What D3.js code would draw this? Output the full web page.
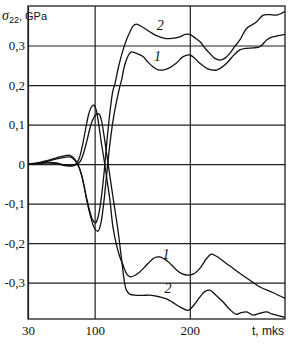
<!DOCTYPE html>
<html>
<head>
<meta charset="utf-8">
<script src="https://cdn.jsdelivr.net/npm/d3@7"></script>
<style>
  body { margin: 0; background: #fff; }
  svg { display: block; }
</style>
</head>
<body>
<div id="chart"></div>
<script>
// stress sigma22 (GPa) vs time t (mks), curves 1 and 2, tension and compression branches
const xTicks = [30, 100, 200];
const yTicks = [-0.3, -0.2, -0.1, 0, 0.1, 0.2, 0.3];

const upper1 = [[30,0],[40,0.002],[50,0.007],[60,0.013],[68,0.017],[74,0.018],[79,0.01],[84,-0.01],[88,-0.045],[92,-0.095],[96,-0.135],[100,-0.163],[103.5,-0.17],[106.5,-0.15],[109.5,-0.1],[112.5,-0.03],[116,0.05],[120,0.12],[125.6,0.187],[128.5,0.215],[131,0.245],[134,0.268],[136.5,0.279],[138.6,0.284],[144,0.28],[150.8,0.272],[156,0.258],[161.4,0.246],[166,0.239],[171.9,0.238],[178,0.243],[186,0.256],[193,0.272],[200,0.276],[205,0.268],[210.5,0.255],[219,0.241],[228,0.238],[238.6,0.255],[246,0.275],[252.6,0.289],[259,0.293],[266.6,0.294],[273.7,0.297],[280.7,0.314],[286,0.321],[291.2,0.324],[300,0.328]];

const upper2 = [[30,0],[40,0.003],[50,0.009],[60,0.016],[68,0.021],[74,0.022],[79,0.013],[83,-0.005],[87,-0.035],[91,-0.08],[95,-0.12],[98,-0.142],[101,-0.149],[104,-0.13],[107,-0.085],[110,-0.02],[113,0.06],[116,0.13],[119.3,0.187],[121,0.2],[125,0.245],[129,0.282],[133.4,0.314],[136.8,0.333],[140.3,0.349],[143.9,0.354],[150,0.347],[157.9,0.335],[165,0.325],[173.7,0.318],[181,0.318],[189.5,0.322],[195,0.328],[200,0.328],[205,0.32],[210.5,0.31],[216,0.293],[221,0.28],[226,0.268],[231.6,0.263],[237,0.268],[242,0.28],[247,0.297],[252.6,0.314],[259.6,0.343],[265,0.352],[270.2,0.36],[277.2,0.377],[284,0.378],[291.2,0.377],[300,0.386]];

const lower1 = [[30,0],[40,0.002],[50,0.004],[60,0.003],[68,-0.002],[74,-0.004],[79,-0.002],[83,0.01],[87,0.045],[91,0.095],[94,0.128],[97,0.146],[99.3,0.149],[101.5,0.138],[104,0.105],[107,0.055],[110,0.01],[113,-0.04],[116,-0.09],[119.3,-0.16],[123,-0.205],[126.5,-0.235],[129.8,-0.255],[133.4,-0.277],[136.8,-0.285],[142,-0.282],[147.4,-0.273],[152,-0.262],[157.9,-0.247],[163,-0.237],[168.4,-0.235],[173,-0.24],[177.2,-0.247],[182,-0.258],[186,-0.268],[192,-0.278],[198.2,-0.281],[204,-0.278],[210.5,-0.264],[214,-0.252],[217.6,-0.239],[222.8,-0.228],[227,-0.232],[231.6,-0.239],[238,-0.251],[245.6,-0.264],[254,-0.279],[263.2,-0.294],[273.7,-0.311],[287,-0.325],[300,-0.34]];

const lower2 = [[30,0],[40,0.001],[50,0.003],[60,0.001],[68,-0.004],[74,-0.005],[79,-0.003],[84,0.004],[88,0.025],[92,0.06],[95,0.09],[98,0.112],[101,0.124],[104.5,0.127],[107,0.112],[110,0.07],[113,0.02],[116,-0.03],[120,-0.095],[124.5,-0.167],[128,-0.235],[131.6,-0.302],[133.4,-0.319],[136.8,-0.329],[143.3,-0.332],[150.8,-0.332],[160,-0.332],[168.4,-0.336],[175.5,-0.341],[182,-0.35],[190,-0.362],[198.2,-0.37],[204,-0.358],[210,-0.338],[216,-0.322],[221,-0.319],[228,-0.333],[235,-0.349],[242,-0.368],[249,-0.38],[254,-0.376],[259.6,-0.374],[266.6,-0.382],[273,-0.378],[280.7,-0.374],[286,-0.379],[291.2,-0.382],[300,-0.388]];

const curveLabels = [
  { text: '2', t: 169, s: 0.34 },
  { text: '1', t: 166, s: 0.262 },
  { text: '1', t: 175, s: -0.24 },
  { text: '2', t: 177, s: -0.325 }
];

const width = 295, height = 345;
const plotLeft = 28, plotRight = 285, plotTop = 6, plotBottom = 319;
const ink = '#1e1e1e';

const svg = d3.select('#chart').append('svg')
  .attr('width', width)
  .attr('height', height);

const x = d3.scaleLinear().domain([30, 300]).range([plotLeft, plotRight]);
const y = d3.scaleLinear().domain([-0.392, 0.4]).range([plotBottom, plotTop]);

const fmt = d => d === 0 ? '0' : d3.format('.1f')(d).replace('.', ',').replace('\u2212', '-');

// horizontal grid + y labels
const yAxis = svg.append('g')
  .attr('transform', `translate(${plotLeft},0)`)
  .call(d3.axisLeft(y).tickValues(yTicks).tickSize(-(plotRight - plotLeft)).tickSizeOuter(0).tickPadding(3).tickFormat(fmt));

// vertical grid + x labels
const xAxis = svg.append('g')
  .attr('transform', `translate(0,${plotBottom})`)
  .call(d3.axisBottom(x).tickValues(xTicks).tickSize(-(plotBottom - plotTop)).tickSizeOuter(0).tickPadding(7).tickFormat(d3.format('d')));

[yAxis, xAxis].forEach(g => {
  g.select('.domain').remove();
  g.selectAll('.tick line').attr('stroke', ink).attr('stroke-width', 1.2);
  g.selectAll('.tick text')
    .attr('fill', '#111')
    .style('font-family', '"Liberation Serif", "DejaVu Serif", serif')
    .style('font-size', '13px');
});

// frame
svg.append('rect')
  .attr('x', plotLeft).attr('y', plotTop)
  .attr('width', plotRight - plotLeft).attr('height', plotBottom - plotTop)
  .attr('fill', 'none').attr('stroke', ink).attr('stroke-width', 1.3);

const line = d3.line()
  .x(d => x(d[0]))
  .y(d => y(d[1]))
  .curve(d3.curveCatmullRom.alpha(0.5));

[upper1, upper2, lower1, lower2].forEach(series => {
  svg.append('path')
    .datum(series)
    .attr('d', line)
    .attr('fill', 'none')
    .attr('stroke', '#111')
    .attr('stroke-width', 1.3);
});

svg.selectAll('.clabel')
  .data(curveLabels)
  .enter()
  .append('text')
  .attr('class', 'clabel')
  .attr('x', d => x(d.t))
  .attr('y', d => y(d.s))
  .attr('text-anchor', 'middle')
  .style('font-family', '"Liberation Serif", "DejaVu Serif", serif')
  .style('font-style', 'italic')
  .style('font-size', '14px')
  .attr('fill', '#111')
  .text(d => d.text);

// axis titles
const yTitle = svg.append('text')
  .attr('x', 2)
  .attr('y', 20)
  .attr('fill', '#111')
  .style('font-family', '"Liberation Sans", Arial, sans-serif')
  .style('font-size', '11px');
yTitle.append('tspan')
  .style('font-family', '"Liberation Serif", serif')
  .style('font-style', 'italic')
  .style('font-size', '14px')
  .text('\u03c3');
yTitle.append('tspan').attr('dy', 3).style('font-size', '9px').text('22');
yTitle.append('tspan').attr('dy', -3).text(', GPa');

svg.append('text')
  .attr('x', 284)
  .attr('y', 335)
  .attr('text-anchor', 'end')
  .attr('fill', '#111')
  .style('font-family', '"Liberation Sans", Arial, sans-serif')
  .style('font-size', '12px')
  .text('t, mks');
</script>
</body>
</html>
